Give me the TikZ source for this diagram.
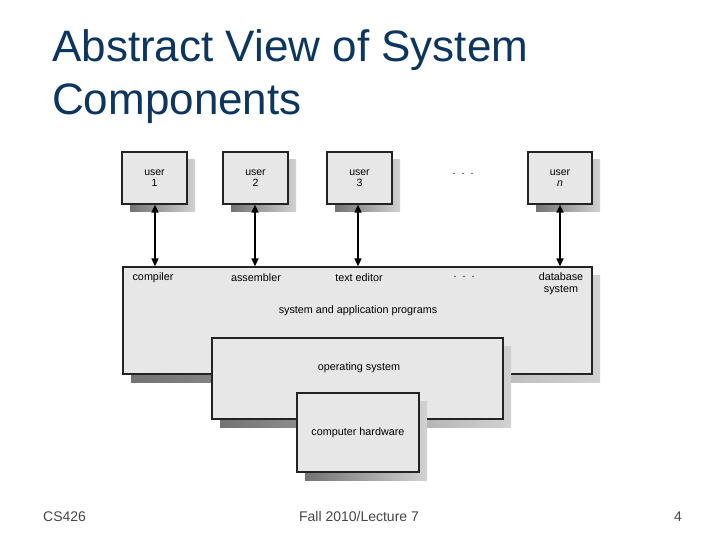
\documentclass[tikz,border=0pt]{standalone}
\usepackage{fontspec}
\setmainfont{Liberation Sans}
\usetikzlibrary{shadows,arrows.meta}
\definecolor{titleblue}{RGB}{12,54,96}
\definecolor{boxfill}{RGB}{231,231,231}
\definecolor{boxline}{RGB}{35,35,35}
\definecolor{foot}{RGB}{70,70,70}
\begin{document}
\begin{tikzpicture}[x=1pt,y=-1pt,
  layer/.style={draw=boxline, line width=1.2pt, fill=boxfill, inner sep=0pt,
    font=\fontsize{10.5}{11.5}\selectfont, align=center,
    drop shadow={shadow xshift=8pt, shadow yshift=-8pt, opacity=1,
      left color=black!55, right color=black!18}},
  lbl/.style={font=\fontsize{10.8}{12}\selectfont, align=center, inner sep=0pt},
  link/.style={{Triangle[width=7pt,length=8pt]}-{Triangle[width=7pt,length=8pt]}, line width=1.6pt}]
\useasboundingbox (0,0) rectangle (720,540);
\fill[white] (0,0) rectangle (720,540);
% title
\node[anchor=base west, inner sep=0pt, font=\fontsize{44}{53}\selectfont, text=titleblue] (t1) at (52,62) {Abstract View of System};
\node[anchor=base west, inner sep=0pt, font=\fontsize{44}{53}\selectfont, text=titleblue] (t2) at (52,115) {Components};
% users
\node[layer, minimum width=65pt, minimum height=52pt] (u1) at (154.5,178) {user\\1};
\node[layer, minimum width=65pt, minimum height=52pt] (u2) at (255.5,178) {user\\2};
\node[layer, minimum width=65pt, minimum height=52pt] (u3) at (359.5,178) {user\\3};
\node[layer, minimum width=64pt, minimum height=52pt] (un) at (560,178) {user\\\textit{n}};
\node[lbl] (udots) at (463,174) {.\ \ .\ \ .};
% system and application programs
\node[layer, minimum width=469pt, minimum height=107pt] (sys) at (357.5,320.5) {};
\node[lbl] (comp) at (153,278) {compiler};
\node[lbl] (asm) at (256,278) {assembler};
\node[lbl] (ted) at (359,278) {text editor};
\node[lbl] (pdots) at (464,277) {.\ \ .\ \ .};
\node[lbl] (db) at (561,284) {database\\system};
\node[lbl] (sap) at (358,311) {system and application programs};
% operating system
\node[layer, minimum width=291pt, minimum height=81pt] (os) at (357.5,378.5) {};
\node[lbl] (osl) at (359,368) {operating system};
% hardware
\node[layer, font=\fontsize{10.8}{12}\selectfont, minimum width=122pt, minimum height=79pt] (hw) at (358,432.5) {computer hardware};
% arrows
\draw[link] (u1.south -| 155,0) -- (155,0 |- sys.north);
\draw[link] (u2.south -| 255,0) -- (255,0 |- sys.north);
\draw[link] (u3.south -| 358,0) -- (358,0 |- sys.north);
\draw[link] (un.south) -- (un.south |- sys.north);
% footer
\node[anchor=base west, inner sep=0pt, font=\fontsize{14}{16}\selectfont, text=foot] (f1) at (43,521) {CS426};
\node[anchor=base, inner sep=0pt, font=\fontsize{14}{16}\selectfont, text=foot] (f2) at (359,521) {Fall 2010/Lecture 7};
\node[anchor=base east, inner sep=0pt, font=\fontsize{14}{16}\selectfont, text=foot] (f3) at (682,521) {4};
\end{tikzpicture}
\end{document}
